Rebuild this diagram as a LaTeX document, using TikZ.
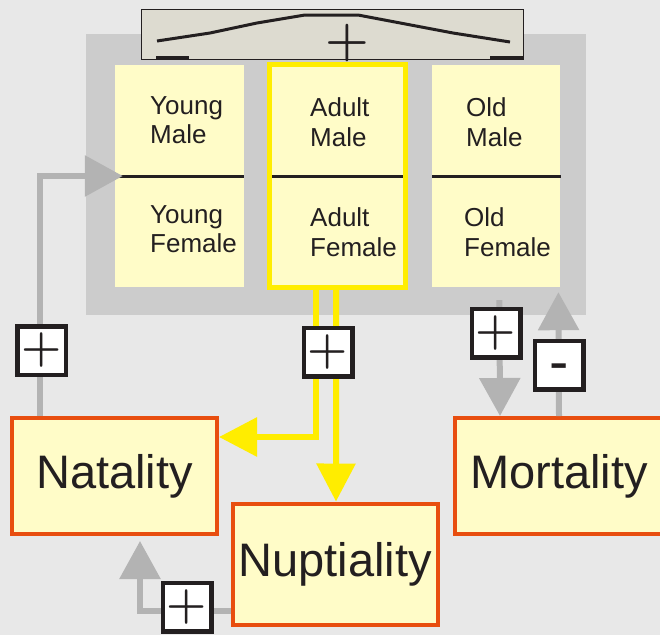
\documentclass[tikz,border=0pt]{standalone}
\usepackage{fontspec}
\newfontfamily\arial{Liberation Sans}
\usetikzlibrary{positioning,arrows.meta}

\definecolor{bgcol}{HTML}{E8E8E8}
\definecolor{framecol}{HTML}{CCCCCC}
\definecolor{headercol}{HTML}{DDDBD0}
\definecolor{cellcol}{HTML}{FFFCC8}
\definecolor{yellowcol}{HTML}{FFED00}
\definecolor{orangecol}{HTML}{E84E0F}
\definecolor{arrowgray}{HTML}{B3B3B3}
\definecolor{inkcol}{HTML}{231F20}

\tikzstyle{cell} = [rectangle, fill=cellcol, minimum width=129pt, minimum height=222pt, inner sep=0pt]
\tikzstyle{cohort} = [font=\arial\fontsize{26}{29.5}\selectfont, text=inkcol, align=left, anchor=west, inner sep=0pt]
\tikzstyle{rate} = [rectangle, draw=orangecol, line width=4pt, fill=cellcol, minimum width=205pt, minimum height=116pt, font=\arial\fontsize{47}{47}\selectfont, text=inkcol]
\tikzstyle{signbox} = [rectangle, draw=inkcol, line width=4.5pt, fill=white, minimum size=48.5pt, inner sep=0pt, font=\bfseries\fontsize{46}{46}\selectfont, text=inkcol]
\tikzstyle{grayflow} = [draw=arrowgray, line width=6pt, -{Triangle[length=38pt,width=40pt]}]
\tikzstyle{yellowflow} = [draw=yellowcol, line width=6pt, -{Triangle[length=38pt,width=38pt]}]
\tikzstyle{divider} = [draw=inkcol, line width=3pt]

\begin{document}
\begin{tikzpicture}[x=1pt, y=-1pt, node distance=23pt]

        \fill[bgcol] (0,0) rectangle (660,635);
        \useasboundingbox (0,0) rectangle (660,635);

        % population block
        \node [rectangle, fill=framecol, minimum width=500pt, minimum height=281pt] (frame) at (336,174.5) {};
        \node [cell] (young) at (179.5,176) {};
        \node [cell, right = 23pt of young, draw=yellowcol, line width=5pt, minimum width=136pt, minimum height=223pt] (adult) {};
        \node [cell, right = 24pt of adult, minimum width=128pt] (old) {};
        \draw [divider] (young.west) -- (young.east);
        \draw [divider, shorten <=5pt, shorten >=5pt] (adult.west) -- (adult.east);
        \draw [divider] (old.west) -- (old.east);

        \node [cohort] (ymale) at (150,120) {Young\\Male};
        \node [cohort] (yfemale) at (150,229) {Young\\Female};
        \node [cohort] (amale) at (310,122) {Adult\\Male};
        \node [cohort] (afemale) at (310,232) {Adult\\Female};
        \node [cohort] (omale) at (466,122) {Old\\Male};
        \node [cohort] (ofemale) at (464,232) {Old\\Female};

        % age scale on top
        \node [rectangle, draw=inkcol, line width=1pt, fill=headercol, minimum width=382pt, minimum height=50pt] (scale) at (332,34) {};
        \draw [inkcol, line width=3pt, line join=round] (157,41) -- (210,33) -- (257,23) -- (305,15) -- (358,15) -- (453,33) -- (510,42);
        \draw [inkcol, line width=3pt] (156,57.5) -- (189,57.5);
        \draw [inkcol, line width=3pt] (490,57.5) -- (523,57.5);
        \node [text=inkcol, font=\bfseries\fontsize{50}{50}\selectfont, inner sep=0pt] (scaleplus) at (347,43) {+};

        % rates
        \node [rate] (natality) at (114.5,476) {Natality};
        \node [rate, minimum height=121pt] (nuptiality) at (335,564) {Nuptiality};
        \node [rate, minimum width=208pt] (mortality) at (559,476) {Mortality};

        \draw [grayflow] ([xshift=-74.5pt]natality.north) |- ([xshift=8pt]young.west);
        \draw [yellowflow] ([xshift=-22pt]adult.south) |- ([yshift=39pt]natality.east);
        \draw [yellowflow] ([xshift=-1.5pt]adult.south) -- ([xshift=1pt]nuptiality.north);
        \draw [grayflow] ([xshift=3pt,yshift=-13pt]old.south) -- ([xshift=-59pt]mortality.north);
        \draw [grayflow] (mortality.north) -- ([xshift=62pt,yshift=-5pt]old.south);
        \draw [grayflow] ([yshift=-47pt]nuptiality.west) -| ([xshift=25.5pt,yshift=-5pt]natality.south);

        \node [signbox] (natplus) at (41.5,350.5) {+};
        \node [signbox] (adultplus) at (328,352) {+};
        \node [signbox] (mortplus) at (496,333) {+};
        \node [signbox, font=\arial\fontsize{58}{58}\selectfont] (mortminus) at (559,365) {\smash{\raisebox{-0.28em}{-}}};
        \node [signbox] (nupplus) at (187,607) {+};
        \end{tikzpicture}
\end{document}
